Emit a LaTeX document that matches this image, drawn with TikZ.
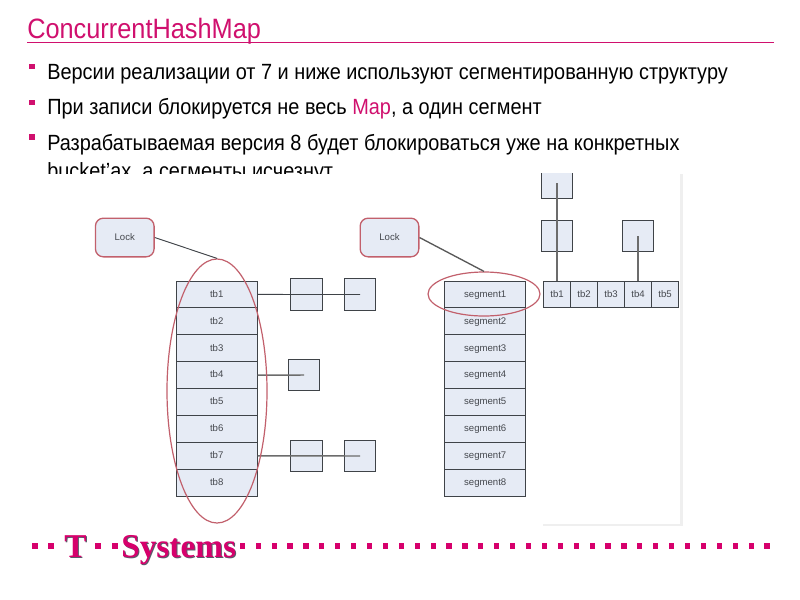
\documentclass[tikz,border=0pt]{standalone}
\usepackage{fontspec}
\setmainfont{Liberation Sans}
\newfontfamily\bodyfont[FakeStretch=0.905]{Liberation Sans}
\newfontfamily\logofont{Liberation Serif}
\usetikzlibrary{shapes.geometric}
\definecolor{tpink}{HTML}{D0106E}
\definecolor{logopink}{HTML}{D6006C}
\definecolor{logoshade}{HTML}{5A5A6A}
\definecolor{cellfill}{HTML}{E6EBF5}
\definecolor{cellline}{HTML}{3F4348}
\definecolor{redring}{HTML}{C2606C}
\definecolor{celltext}{HTML}{45484E}
\definecolor{shadowgrey}{HTML}{EFEFEF}
\tikzset{
  x=0.75pt,y=-0.75pt,
  bodytext/.style={anchor=base west,inner sep=0pt,text=black,font=\bodyfont\fontsize{16.5pt}{18pt}\selectfont},
  bulletmark/.style={fill=tpink,draw=none,minimum width=3.9pt,minimum height=3.9pt,inner sep=0pt},
  cell/.style={draw=cellline,fill=cellfill,line width=0.75pt,inner sep=0pt,text=celltext,font=\fontsize{7.2pt}{8pt}\selectfont,text height=5.4pt,text depth=1.2pt,minimum width=60.5pt,minimum height=20.17pt},
  hcell/.style={cell,minimum width=20.2pt,minimum height=20.2pt},
  sq/.style={draw=cellline,fill=cellfill,line width=0.75pt,inner sep=0pt,minimum width=23.6pt,minimum height=23.6pt},
  lock/.style={draw=redring,fill=cellfill,line width=1pt,rounded corners=6pt,inner sep=0pt,text=celltext,font=\fontsize{7.2pt}{8pt}\selectfont,minimum width=44pt,minimum height=29pt},
  ring/.style={ellipse,draw=redring,line width=0.9pt,inner sep=0pt},
  link/.style={draw=cellline,line width=0.7pt},
  thicklink/.style={draw=gray!85!black,line width=1.1pt},
  dot/.style={fill=logopink,draw=none,minimum width=3.9pt,minimum height=3.9pt,inner sep=0pt},
  logo/.style={anchor=base west,inner sep=0pt,font=\logofont\bfseries\fontsize{25pt}{28pt}\selectfont}
}
\begin{document}
\begin{tikzpicture}
\useasboundingbox (0,0) rectangle (800,600);
\fill[white] (0,0) rectangle (800,600);

% title
\node[anchor=base west,inner sep=0pt,text=tpink,font=\bodyfont\fontsize{21pt}{24pt}\selectfont] (title) at (27,38) {ConcurrentHashMap};
\coordinate (ruleL) at (27,42.5);
\coordinate (ruleR) at (774,42.5);
\draw[tpink,line width=0.8pt] (ruleL) -- (ruleR);

% bullets
\node[bulletmark] (b1) at (32,66.5) {};
\node[bulletmark] (b2) at (32,102.5) {};
\node[bulletmark] (b3) at (32,137) {};
\node[bodytext] (l1) at (47,79) {Версии реализации от 7 и ниже используют сегментированную структуру};
\node[bodytext] (l2) at (47,114) {При записи блокируется не весь \textcolor{tpink}{Map}, а один сегмент};
\node[bodytext] (l3) at (47,150) {Разрабатываемая версия 8 будет блокироваться уже на конкретных};
\node[bodytext] (l4) at (47,178) {bucket’ах, а сегменты исчезнут};

% picture area covers the last line
\fill[white] (40,173.5) rectangle (680,524);
\fill[shadowgrey] (680,174) rectangle (683,525);
\fill[shadowgrey] (543,523.5) rectangle (683,525.5);

% left structure
\foreach \i/\yy in {1/294.45,2/321.35,3/348.25,4/375.15,5/402.05,6/428.95,7/455.85,8/482.75}{
  \node[cell] (t\i) at (216.75,\yy) {tb\i};
}
\node[sq] (a1) at (306.5,294.5) {};
\node[sq] (a2) at (360,294.5) {};
\node[sq] (a3) at (304,375) {};
\node[sq] (a4) at (306.5,456) {};
\node[sq] (a5) at (360,456) {};
\draw[link] (t1.east) -- (a2.center);
\draw[thicklink] (t4.east) -- (a3.center);
\draw[thicklink] (t7.east) -- (a5.center);
\node[lock] (lockL) at (124.75,237.5) {Lock};
\node[ring,minimum width=75pt,minimum height=198pt] (ringL) at (217,391) {};
\draw[link] (lockL.east) -- (ringL.north);

% segments
\foreach \i/\yy in {1/294.45,2/321.35,3/348.25,4/375.15,5/402.05,6/428.95,7/455.85,8/482.75}{
  \node[cell,minimum width=61pt] (s\i) at (485.25,\yy) {segment\i};
}
\node[lock] (lockR) at (389.5,237.5) {Lock};
\node[ring,minimum width=84pt,minimum height=33pt] (ringR) at (484,294) {};
\draw[link,draw=gray!70!black,line width=1pt] (lockR.east) -- (ringR.north);

% horizontal table
\foreach \i/\xx in {1/557,2/584,3/611,4/638,5/665}{
  \node[hcell] (h\i) at (\xx,294.5) {tb\i};
}
\begin{scope}
  \clip (530,173.5) rectangle (600,210);
  \node[sq] (c1) at (557,182.5) {};
\end{scope}
\node[sq] (c2) at (557,236) {};
\node[sq] (c3) at (638,236) {};
\begin{scope}
  \clip (530,173.5) rectangle (680,300);
  \draw[thicklink] (h1.north) -- (c1.center);
\end{scope}
\draw[thicklink] (h4.north) -- (c3.center);

% footer
\foreach \n/\xx in {d1/35,d2/51,d3/98,d4/115}{
  \node[dot] (\n) at (\xx,546) {};
}
\foreach \k in {0,...,33}{
  \node[dot] (e\k) at ({242.3+15.9*\k},546) {};
}
\node[logo,text=logoshade] at (65,558) {T};
\node[logo,text=logoshade] at (122,558) {Systems};
\node[logo,text=logopink] (logoT) at (64,557) {T};
\node[logo,text=logopink] (logoS) at (121,557) {Systems};
\end{tikzpicture}
\end{document}
